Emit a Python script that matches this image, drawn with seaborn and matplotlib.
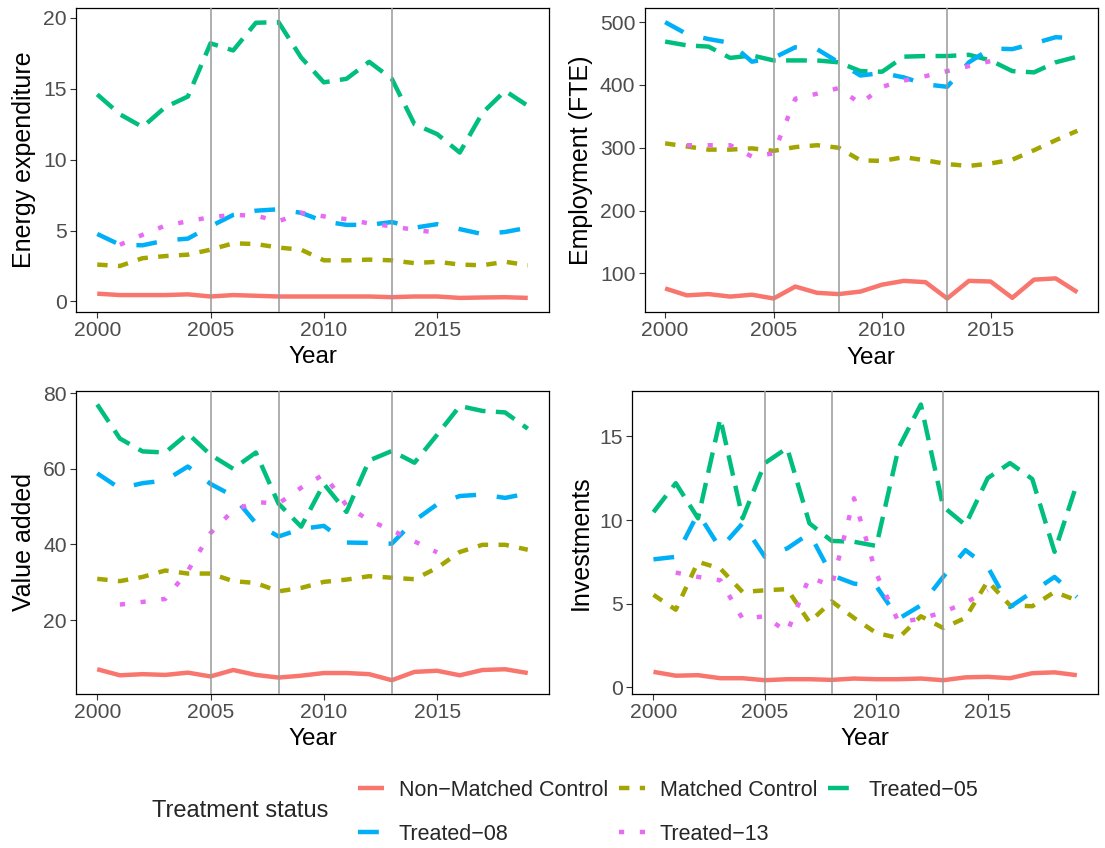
import numpy as np
import pandas as pd
import matplotlib
matplotlib.use("Agg")
import matplotlib.pyplot as plt
from matplotlib.lines import Line2D
import seaborn as sns

nan = np.nan
years = list(range(2000, 2020))
statuses = ["Non−Matched Control", "Matched Control", "Treated−05", "Treated−08", "Treated−13"]
colors = ["#F8766D", "#A3A500", "#00BF7D", "#00B0F6", "#E76BF3"]

# Energy expenditure
nmc_energy = [0.55, 0.45, 0.45, 0.45, 0.5, 0.35, 0.45, 0.4, 0.35, 0.35, 0.35, 0.35, 0.35, 0.3, 0.35, 0.35, 0.25, 0.28, 0.3, 0.25]
mc_energy = [2.6, 2.5, 3.05, 3.2, 3.3, 3.65, 4.1, 4.05, 3.8, 3.65, 2.9, 2.9, 2.95, 2.9, 2.7, 2.8, 2.6, 2.55, 2.8, 2.55]
t05_energy = [14.6, 13.2, 12.3, 13.7, 14.45, 18.2, 17.7, 19.65, 19.7, 17.2, 15.45, 15.7, 16.9, 15.7, 12.5, 11.8, 10.5, 13.3, 14.85, 13.8]
t08_energy = [4.76, 4.0, 3.96, 4.3, 4.43, 5.3, 6.1, 6.4, 6.5, 6.25, 5.65, 5.4, 5.4, 5.6, 5.2, 5.45, 5.1, 4.75, 4.9, 5.2]
t13_energy = [nan, 4.0, 4.7, 5.35, 5.65, 5.95, 6.1, 6.05, 5.65, 6.25, 6.0, 5.8, 5.5, 5.3, 5.05, 4.85, nan, nan, nan, nan]

# Employment (FTE)
nmc_emp = [76, 65, 67, 63, 66, 60, 79, 69, 67, 71, 82, 88, 86, 60, 88, 87, 61, 90, 92, 70]
mc_emp = [307, 302, 297, 297, 299, 295, 301, 304, 300, 280, 279, 285, 280, 274, 271, 275, 281, 296, 312, 327]
t05_emp = [469, 463, 461, 443, 447, 439, 439, 439, 436, 422, 421, 445, 446, 446, 448, 439, 422, 420, 436, 445]
t08_emp = [500, 481, 473, 467, 437, 443, 460, 457, 436, 415, 419, 412, 401, 397, 436, 458, 457, 466, 476, 474]
t13_emp = [nan, 304, 304, 304, 286, 291, 378, 386, 395, 370, 397, 407, 414, 422, 430, 438, nan, nan, nan, nan]

# Value added
nmc_va = [7.0, 5.4, 5.7, 5.5, 6.1, 5.1, 6.8, 5.5, 4.8, 5.3, 6.0, 6.0, 5.7, 4.1, 6.3, 6.6, 5.4, 6.8, 7.0, 6.0]
mc_va = [30.9, 30.3, 31.4, 33.1, 32.3, 32.3, 30.3, 29.8, 27.6, 28.5, 30.1, 30.7, 31.6, 31.2, 30.8, 33.8, 38.0, 39.9, 39.9, 38.6]
t05_va = [77.0, 68.0, 64.6, 64.3, 69.3, 63.7, 60.0, 64.3, 50.8, 44.7, 56.0, 48.6, 62.2, 64.7, 61.6, 69.0, 76.6, 75.3, 74.9, 70.6]
t08_va = [58.8, 54.8, 56.2, 56.9, 60.6, 56.0, 52.8, 45.6, 42.1, 44.1, 44.9, 40.5, 40.4, 40.2, 46.3, 50.6, 52.8, 53.2, 52.3, 53.5]
t13_va = [nan, 24.1, 24.8, 25.6, 33.0, 43.0, 49.0, 51.2, 50.8, 55.0, 58.5, 50.3, 46.3, 43.8, 40.8, 37.9, nan, nan, nan, nan]

# Investments
nmc_inv = [0.93, 0.7, 0.73, 0.55, 0.55, 0.43, 0.49, 0.49, 0.45, 0.53, 0.49, 0.49, 0.53, 0.43, 0.6, 0.63, 0.55, 0.85, 0.9, 0.73]
mc_inv = [5.53, 4.64, 7.5, 7.1, 5.7, 5.8, 5.87, 3.9, 5.14, 4.15, 3.25, 2.95, 4.25, 3.55, 4.15, 6.35, 4.9, 4.85, 5.7, 5.2]
t05_inv = [10.47, 12.2, 10.1, 16.07, 10.1, 13.4, 14.3, 9.8, 8.75, 8.7, 8.45, 14.3, 16.9, 10.8, 9.7, 12.5, 13.4, 12.45, 8.1, 12.15]
t08_inv = [7.65, 7.8, 10.4, 8.3, 9.8, 7.8, 8.3, 9.2, 6.7, 6.2, 6.05, 4.1, 4.9, 6.6, 8.2, 7.2, 4.8, 5.7, 6.6, 5.4]
t13_inv = [nan, 6.86, 6.6, 6.4, 4.1, 4.25, 3.3, 6.6, 6.05, 11.3, 6.8, 3.9, 4.1, 4.5, 5.05, 5.8, nan, nan, nan, nan]

treatment_years = [2005, 2008, 2013]

panels = [
    ("Energy expenditure", [nmc_energy, mc_energy, t05_energy, t08_energy, t13_energy], [0, 5, 10, 15, 20]),
    ("Employment (FTE)", [nmc_emp, mc_emp, t05_emp, t08_emp, t13_emp], [100, 200, 300, 400, 500]),
    ("Value added", [nmc_va, mc_va, t05_va, t08_va, t13_va], [20, 40, 60, 80]),
    ("Investments", [nmc_inv, mc_inv, t05_inv, t08_inv, t13_inv], [0, 5, 10, 15]),
]

sns.set_theme(style="white")
plt.rcParams["font.family"] = ["Liberation Sans", "DejaVu Sans"]
plt.rcParams["lines.solid_capstyle"] = "butt"
plt.rcParams["lines.dash_capstyle"] = "butt"

lw = 3.2
k = 1.17
dash_map = {
    statuses[0]: "",
    statuses[1]: (2 * k, 2 * k),
    statuses[2]: (4 * k, 2 * k),
    statuses[3]: (4 * k, 4 * k),
    statuses[4]: (1 * k, 3 * k),
}
palette = dict(zip(statuses, colors))

W, H = 1105, 848
fig = plt.figure(figsize=(W / 100, H / 100), dpi=100)


def box(left, top, right, bottom):
    return [left / W, 1 - bottom / H, (right - left) / W, (bottom - top) / H]


boxes = [
    box(75.7, 8.3, 549.3, 311.7),
    box(644.5, 8.3, 1098, 312.3),
    box(75.7, 390.7, 549.3, 694),
    box(632.3, 390.7, 1098, 694),
]

for (ylabel, series, yticks), rect in zip(panels, boxes):
    ax = fig.add_axes(rect)
    frames = []
    for name, vals in zip(statuses, series):
        frames.append(pd.DataFrame({"Year": years, "value": vals, "status": name}))
    df = pd.concat(frames, ignore_index=True).dropna()
    sns.lineplot(data=df, x="Year", y="value", hue="status", style="status",
                 hue_order=statuses, style_order=statuses, palette=palette,
                 dashes=dash_map, linewidth=lw, errorbar=None, legend=False, ax=ax)
    for yr in treatment_years:
        ax.axvline(yr, color="#999999", linewidth=1.1, zorder=5)
    lo, hi = df["value"].min(), df["value"].max()
    pad = 0.05 * (hi - lo)
    ax.set_ylim(lo - pad, hi + pad)
    ax.set_xlim(2000 - 0.95, 2019 + 0.95)
    ax.set_xticks([2000, 2005, 2010, 2015])
    ax.set_yticks(yticks)
    ax.set_xlabel("Year", fontsize=17.5, color="black", labelpad=4.5)
    ax.set_ylabel(ylabel, fontsize=18, color="black", labelpad=5)
    ax.tick_params(axis="both", which="both", direction="out", length=4, width=0.8,
                   color="#333333", labelcolor="#4D4D4D", labelsize=15.2, pad=2.5,
                   left=True, bottom=True)
    for sp in ax.spines.values():
        sp.set_visible(True)
        sp.set_color("black")
        sp.set_linewidth(0.9)
    ax.set_facecolor("white")

# Legend: row-wise order across three columns
handles = [Line2D([0], [0], color=palette[s], linewidth=lw, dashes=dash_map[s] if dash_map[s] else (None, None))
           for s in statuses]
order = [0, 3, 1, 4, 2]
leg = fig.legend([handles[i] for i in order], [statuses[i] for i in order],
                 ncol=3, loc="upper left", bbox_to_anchor=(358 / W, 1 - 780 / H),
                 frameon=False, fontsize=15.5, handlelength=1.2, handletextpad=0.7,
                 columnspacing=0.5, labelspacing=1.05, borderpad=0, borderaxespad=0)
fig.text(152 / W, 1 - 811 / H, "Treatment status", fontsize=17, ha="left", va="center")

fig.savefig("out.png", dpi=100, facecolor="white")
